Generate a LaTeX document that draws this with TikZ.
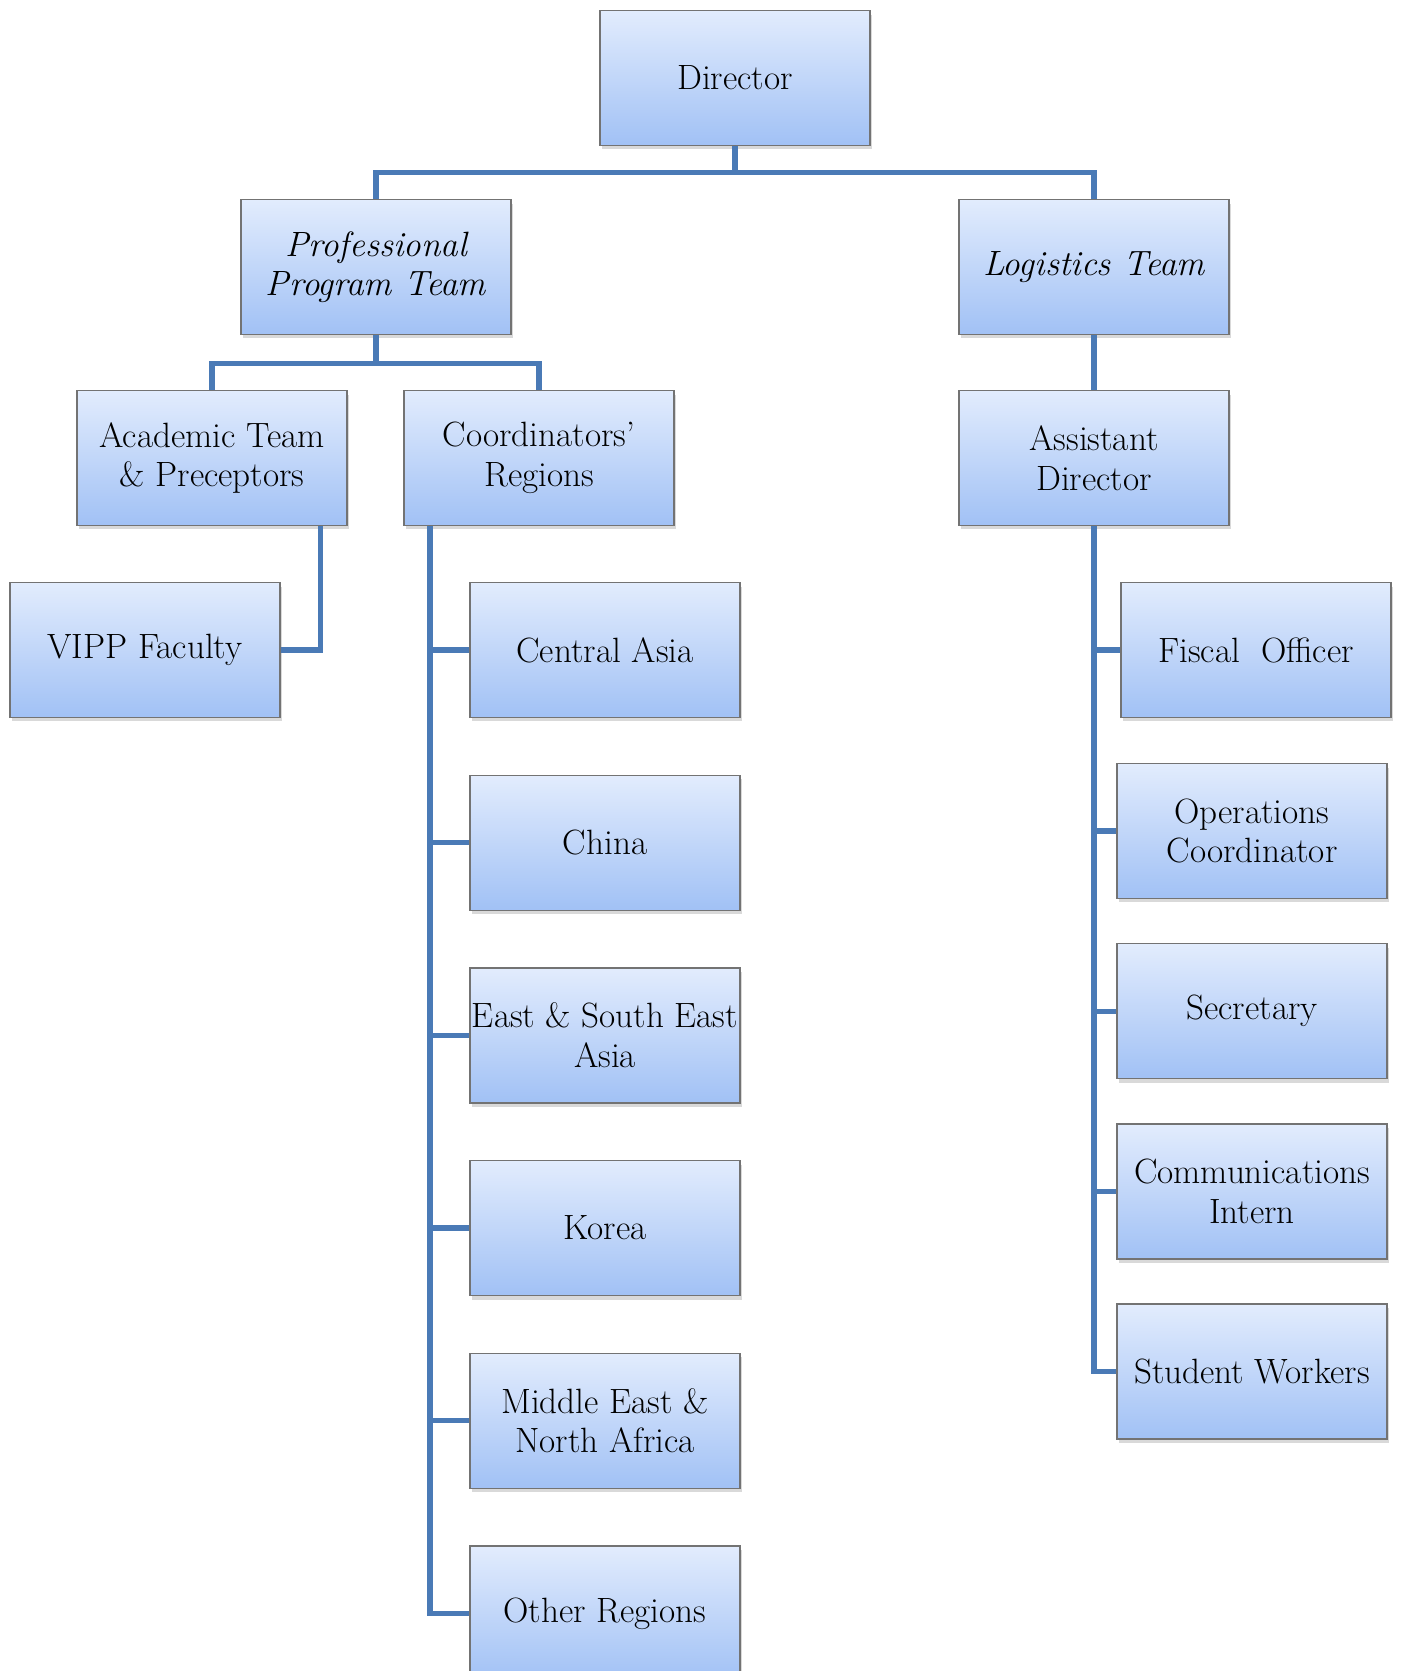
\documentclass[tikz,border=0pt]{standalone}
\usetikzlibrary{positioning,shadows}
\definecolor{boxtop}{RGB}{226,236,253}
\definecolor{boxbot}{RGB}{161,193,245}
\definecolor{linkblue}{RGB}{74,122,182}
\tikzset{
    unit/.style={%
        draw=gray!90!black, line width=0.7pt,
        top color=boxtop, bottom color=boxbot,
        drop shadow={shadow xshift=0.04cm, shadow yshift=-0.08cm, opacity=0.3},
        minimum width=5.4cm, minimum height=2.7cm,
        inner xsep=1pt, align=center,
        font=\fontsize{20}{22.5}\selectfont
    },
    link/.style={draw=linkblue, line width=3pt}
}

\begin{document}
\begin{tikzpicture}[x=0.02cm, y=-0.02cm]
    \useasboundingbox (0,0) rectangle (1401,1671);
    % top levels
    \node[unit] (dir) at (735,78) {Director};
    \node[unit] (ppt) at (376,267) {\itshape Professional\\\itshape Program Team};
    \node[unit] (logt) at (1094,267) {\itshape Logistics Team};
    \node[unit] (acad) at (212,458) {Academic Team\\\& Preceptors};
    \node[unit] (coord) at (539,458) {Coordinators'\\Regions};
    \node[unit] (asst) at (1094,458) {Assistant\\Director};
    \node[unit] (vipp) at (145,650) {VIPP Faculty};
    % regions
    \node[unit] (cas) at (605,650) {Central Asia};
    \node[unit, below=1.13cm of cas] (chn) {China};
    \node[unit, below=1.13cm of chn] (esea) {East \& South East\\Asia};
    \node[unit, below=1.13cm of esea] (kor) {Korea};
    \node[unit, below=1.13cm of kor] (mena) {Middle East \&\\North Africa};
    \node[unit, below=1.13cm of mena] (oth) {Other Regions};
    % logistics staff
    \node[unit] (fisc) at (1256,650) {Fiscal\ \ Officer};
    \node[unit] (ops) at (1252,831) {Operations\\Coordinator};
    \node[unit, below=0.88cm of ops] (sec) {Secretary};
    \node[unit, below=0.88cm of sec] (comm) {Communications\\Intern};
    \node[unit, below=0.88cm of comm] (stud) {Student Workers};

    \draw[link] (dir.south) -- ++(0,-0.53cm) -| (ppt.north);
    \draw[link] (dir.south) -- ++(0,-0.53cm) -| (logt.north);
    \draw[link] (ppt.south) -- ++(0,-0.57cm) -| (acad.north);
    \draw[link] (ppt.south) -- ++(0,-0.57cm) -| (coord.north);
    \draw[link] (logt) -- (asst);
    \draw[link] ([xshift=-0.54cm]acad.south east) |- (vipp.east);
    \foreach \r in {cas,chn,esea,kor,mena,oth}
        \draw[link] ([xshift=0.53cm]coord.south west) |- (\r.west);
    \foreach \s in {fisc,ops,sec,comm,stud}
        \draw[link] (asst.south) |- (\s.west);
\end{tikzpicture}
\end{document}
